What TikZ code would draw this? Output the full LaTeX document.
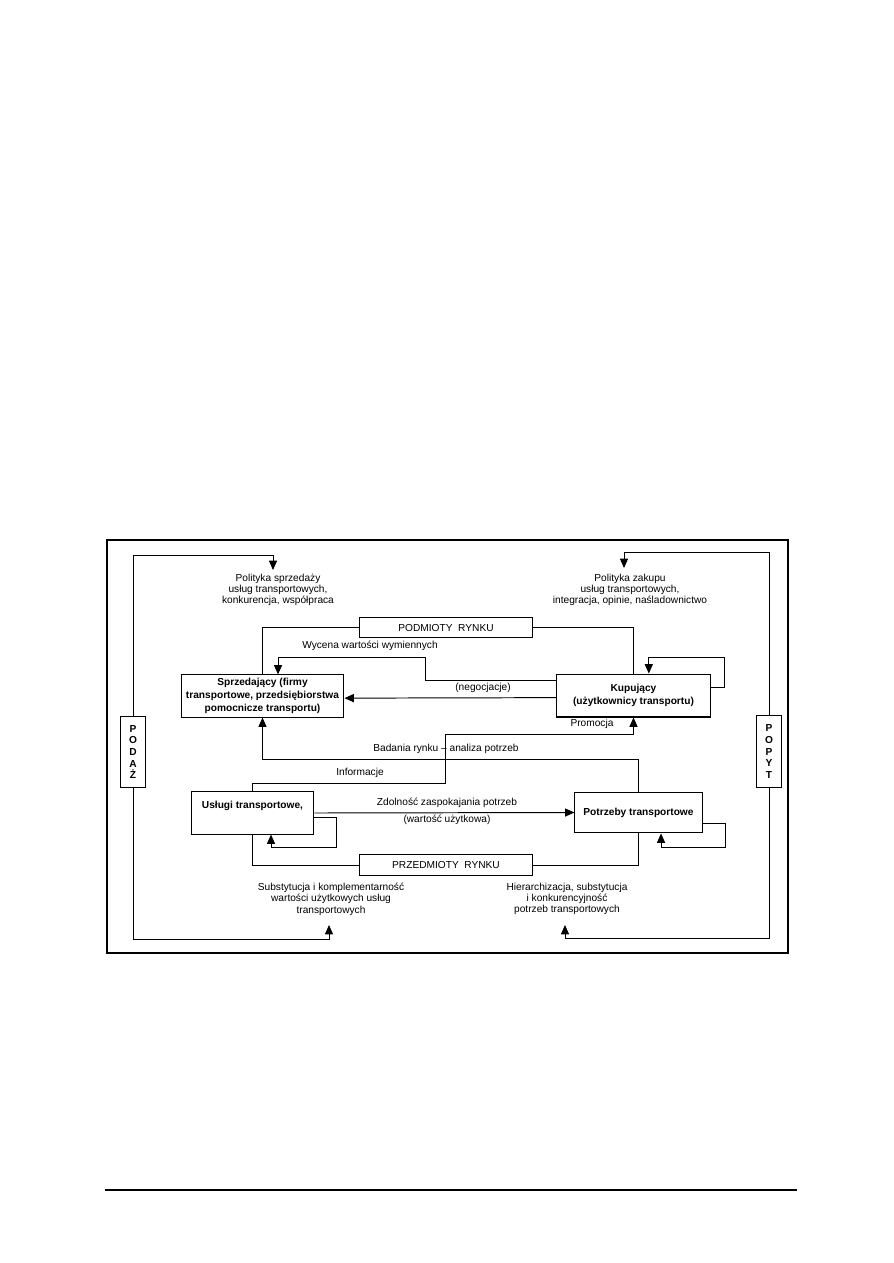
\documentclass[tikz,border=0pt]{standalone}
\usepackage{fontspec}
\setmainfont{Liberation Sans}
\usetikzlibrary{positioning,arrows.meta,calc}

\begin{document}
\begin{tikzpicture}[x=0.2352mm,y=-0.2352mm,font=\fontsize{6.8}{7.6}\selectfont,
  box/.style={draw,line width=0.7pt,fill=white,align=center,inner sep=1pt,font=\fontsize{6.8}{8.6}\selectfont\bfseries},
  tag/.style={draw,line width=0.7pt,fill=white,minimum width=40.5mm,minimum height=4.9mm,inner sep=0pt},
  side/.style={draw,line width=0.7pt,fill=white,minimum width=6.1mm,minimum height=16.9mm,align=center,inner sep=0pt,font=\fontsize{6.8}{7.8}\selectfont\bfseries},
  note/.style={align=center,inner sep=1pt},
  link/.style={line width=0.65pt},
  arr/.style={line width=0.65pt,-{Triangle[length=2.2mm,width=1.9mm]}}]
\useasboundingbox (0,0) rectangle (893,1263);
% frame and page rule
\draw[line width=1pt] (107,540) rectangle (788,953);
\draw[line width=0.7pt] (105,1190) -- (797,1190);

% boxes
\node[box,minimum width=38.3mm,minimum height=9.9mm] (sprz) at (262.5,696) {Sprzedający (firmy\\transportowe, przedsiębiorstwa\\pomocnicze transportu)};
\node[box,minimum width=36mm,minimum height=10.1mm] (kup) at (633.5,695.5) {Kupujący\\(użytkownicy transportu)};
\node[box,minimum width=28.9mm,minimum height=9.9mm] (usl) at (252.5,813) {Usługi transportowe,\\\strut};
\node[box,minimum width=29.9mm,minimum height=9.6mm] (potrz) at (638.5,812.5) {Potrzeby transportowe};
\node[tag] (podm) at (446,627.5) {PODMIOTY\ \ RYNKU};
\node[tag] (przed) at (446,865) {PRZEDMIOTY\ \ RYNKU};
\node[side] (podaz) at (133,752) {P\\O\\D\\A\\Ż};
\node[side] (popyt) at (769,751.5) {P\\O\\P\\Y\\T};

% notes
\node[note] (polsp) at (278,590) {Polityka sprzedaży\\usług transportowych,\\konkurencja, współpraca};
\node[note] (polzak) at (630,590) {Polityka zakupu\\usług transportowych,\\integracja, opinie, naśladownictwo};
\node[note] (subst) at (331,899) {Substytucja i komplementarność\\wartości użytkowych usług\\transportowych};
\node[note] (hier) at (567,899) {Hierarchizacja, substytucja\\i konkurencyjność\\potrzeb transportowych};
\coordinate (polsptip) at (273,570);
\coordinate (polzaktip) at (624,568);
\coordinate (substtip) at (329,925);
\coordinate (hiertip) at (565,925);

% podaz / popyt
\draw[arr] (podaz.north) |- (273,555) -- (polsptip);
\draw[arr] (podaz.south) |- (329,939) -- (substtip);
\draw[arr] (popyt.north) |- (624,552) -- (polzaktip);
\draw[arr] (popyt.south) |- (565,938) -- (hiertip);

% podmioty
\draw[link] (podm.west) -| (sprz.north);
\draw[link] (podm.east) -| (kup.north);
\draw[arr] ([yshift=1.8mm]kup.east) -| (724,657) -| ([xshift=3.6mm]kup.north);
\draw[arr] ([yshift=3.65mm]kup.west) -| (425,657) -| ([xshift=3.65mm]sprz.north);
\node (wyc) at (370,646) {Wycena wartości wymiennych};
\draw[arr] ([yshift=-0.5mm]kup.west) -- ([yshift=-0.5mm]sprz.east);
\node (neg) at (483,688) {(negocjacje)};

% informacje / badania
\draw[arr] (usl.north) |- (445,783) |- ([yshift=-4mm]kup.south) -- (kup.south);
\node (inf) at (360,773) {Informacje};
\node (prom) at (592,724) {Promocja};
\draw[arr] (potrz.north) |- ([yshift=-9.88mm]sprz.south) -- (sprz.south);
\node (bad) at (446,749) {Badania rynku -- analiza potrzeb};

% przedmioty
\draw[arr] (usl.east) -- (potrz.west);
\node (zdol) at (447,803) {Zdolność zaspokajania potrzeb};
\node (wart) at (447,820) {(wartość użytkowa)};
\draw[arr] ([yshift=-0.94mm]usl.east) -| (336,847) -| ([xshift=4.35mm]usl.south);
\draw[arr] ([yshift=-2.47mm]potrz.east) -| (725,847) -| ([xshift=5.3mm]potrz.south);
\draw[link] (przed.west) -| (usl.south);
\draw[link] (przed.east) -| (potrz.south);
\end{tikzpicture}
\end{document}
